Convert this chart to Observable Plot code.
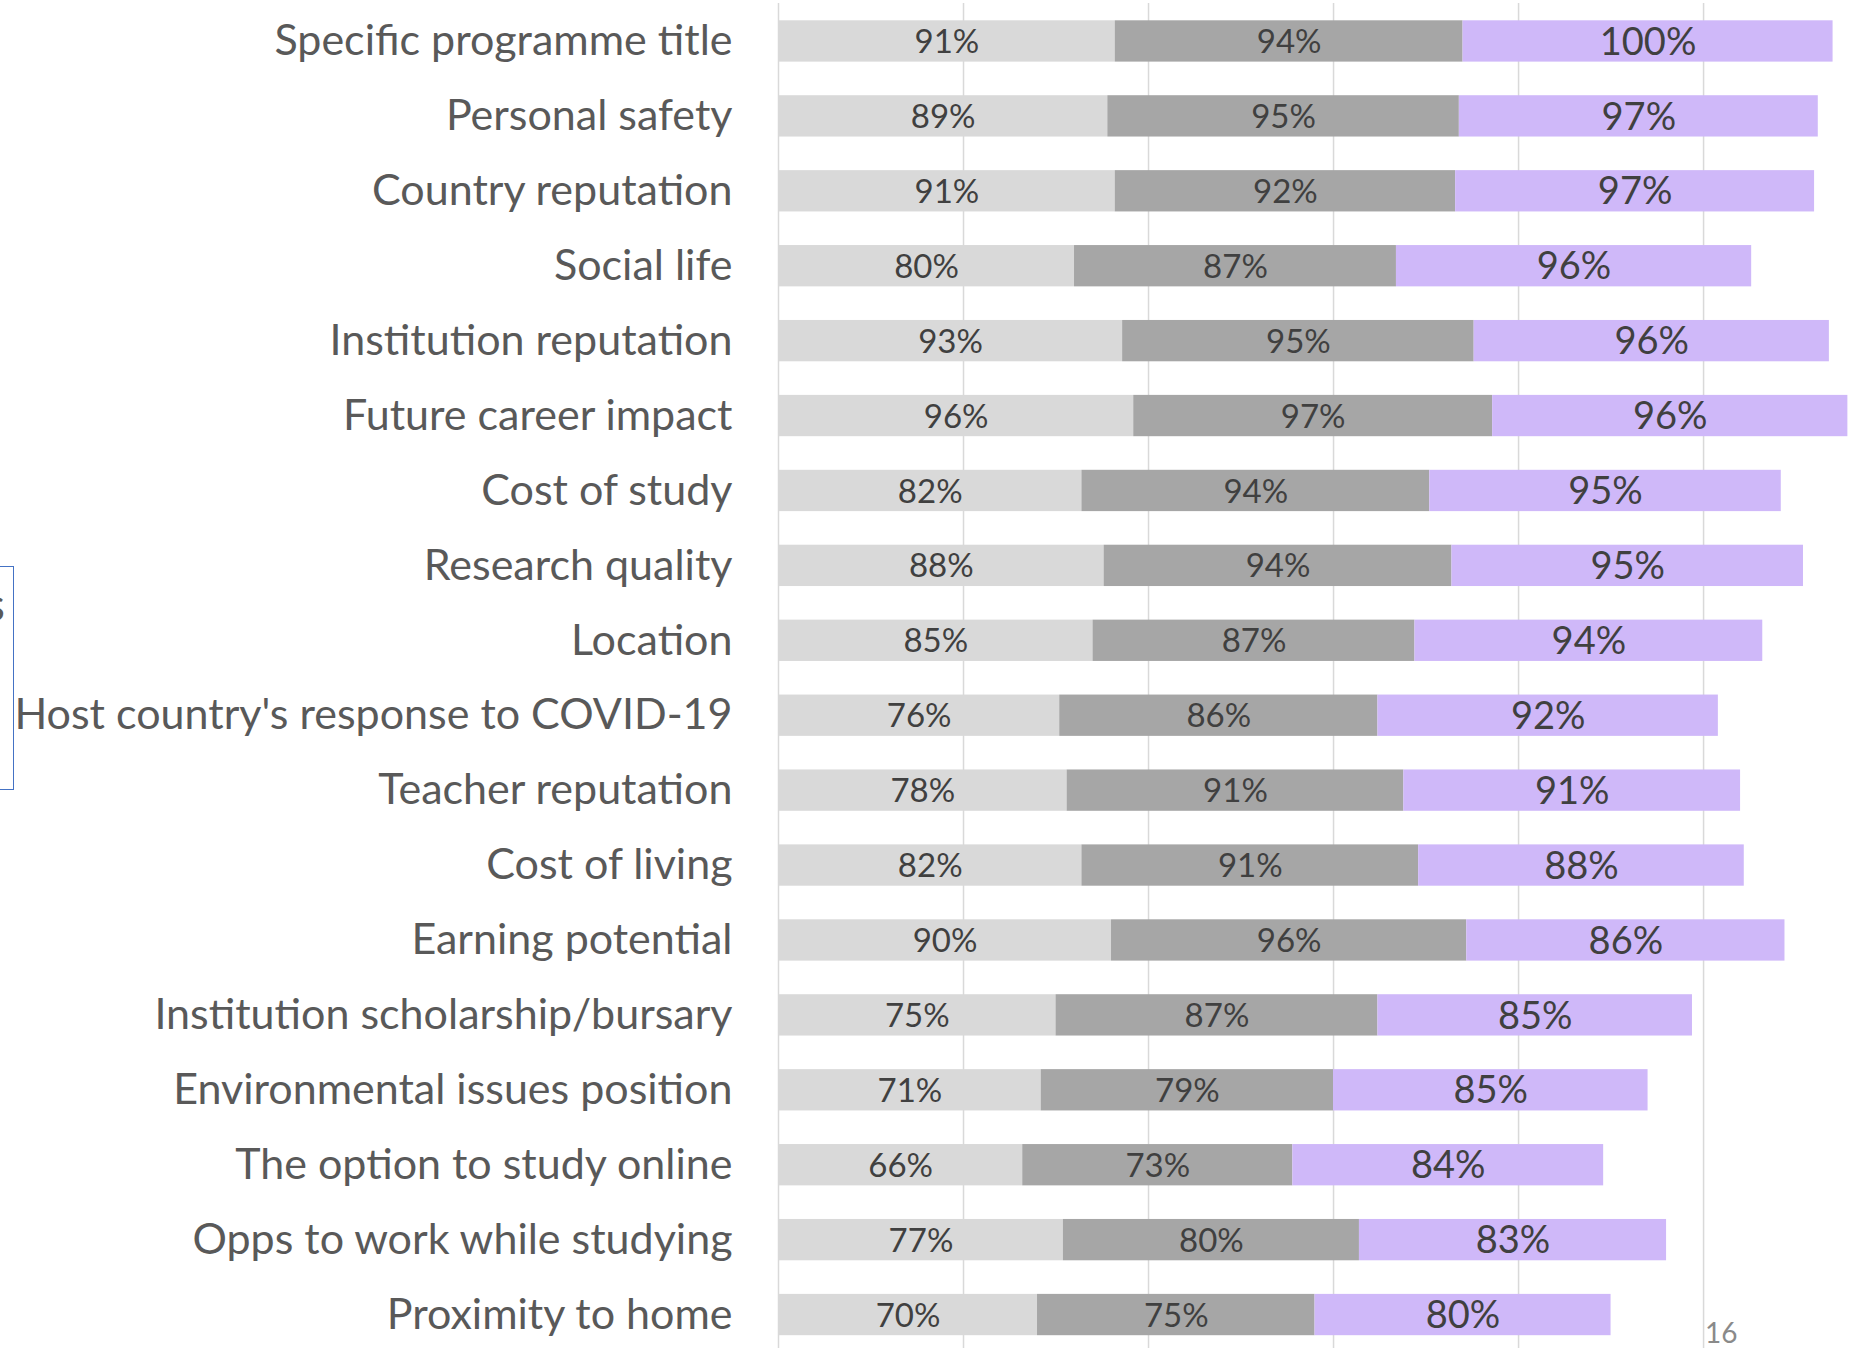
<!DOCTYPE html>
<html>
<head>
<meta charset="utf-8">
<script src="https://cdn.jsdelivr.net/npm/d3@7"></script>
<script src="https://cdn.jsdelivr.net/npm/@observablehq/plot@0.6"></script>
<style>
  html, body { margin: 0; padding: 0; background: #fff; overflow: hidden; }
  #wrap { position: relative; width: 1857px; height: 1348px; }
  #chart svg { display: block; }
  .pagenum { position: absolute; left: 1705px; top: 1318px; font: 28px Lato, sans-serif; color: #8a8a8a; line-height: 1; }
  .box { position: absolute; left: -10px; top: 566px; width: 22px; height: 222px; border: 1.5px solid #4472C4; overflow: hidden; }
  .box span { position: absolute; right: 8px; top: 14px; font: 46px Lato, sans-serif; color: #595959; line-height: 1; }
</style>
</head>
<body>
<div id="wrap">
  <div id="chart"></div>
  <div class="box"><span>s</span></div>
  <div class="pagenum">16</div>
</div>
<script>
const categories = [
  "Specific programme title",
  "Personal safety",
  "Country reputation",
  "Social life",
  "Institution reputation",
  "Future career impact",
  "Cost of study",
  "Research quality",
  "Location",
  "Host country's response to COVID-19",
  "Teacher reputation",
  "Cost of living",
  "Earning potential",
  "Institution scholarship/bursary",
  "Environmental issues position",
  "The option to study online",
  "Opps to work while studying",
  "Proximity to home"
];
const seriesNames = ["Series 1", "Series 2", "Series 3"];
const series1 = [91, 89, 91, 80, 93, 96, 82, 88, 85, 76, 78, 82, 90, 75, 71, 66, 77, 70];
const series2 = [94, 95, 92, 87, 95, 97, 94, 94, 87, 86, 91, 91, 96, 87, 79, 73, 80, 75];
const series3 = [100, 97, 97, 96, 96, 96, 95, 95, 94, 92, 91, 88, 86, 85, 85, 84, 83, 80];
const gridTicks = [0, 50, 100, 150, 200, 250];
const colors = ["#D9D9D9", "#A6A6A6", "#CFB8F9"];

const seriesValues = [series1, series2, series3];
const data = [];
categories.forEach((c, i) => {
  seriesNames.forEach((s, j) => {
    data.push({category: c, series: s, value: seriesValues[j][i]});
  });
});

const chart = Plot.plot({
  width: 1857,
  height: 1348,
  marginLeft: 778,
  marginRight: 0,
  marginTop: 3,
  marginBottom: 0,
  style: {fontFamily: "Lato, sans-serif", background: "#fff"},
  x: {domain: [0, 291.6], axis: null},
  y: {domain: categories, range: [3.5, 1352], padding: 0, round: false, axis: null},
  color: {domain: seriesNames, range: colors},
  marks: [
    Plot.gridX(gridTicks, {stroke: "#D9D9D9", strokeOpacity: 1, strokeWidth: 1.5}),
    Plot.barX(data, Plot.stackX({
      x: "value", y: "category", fill: "series", z: "series",
      insetTop: 16.8, insetBottom: 16.8
    })),
    Plot.text(data, Plot.stackX({
      x: "value", y: "category", z: "series",
      text: d => d.value + "%",
      fill: "#404040",
      fontSize: d => d.series === seriesNames[2] ? 38 : 33,
      dy: 1
    })),
    Plot.text(categories, {
      y: d => d, text: d => d,
      frameAnchor: "left", textAnchor: "end", dx: -46,
      fontSize: 43, fill: "#595959"
    })
  ]
});
document.getElementById("chart").appendChild(chart);
</script>
</body>
</html>
